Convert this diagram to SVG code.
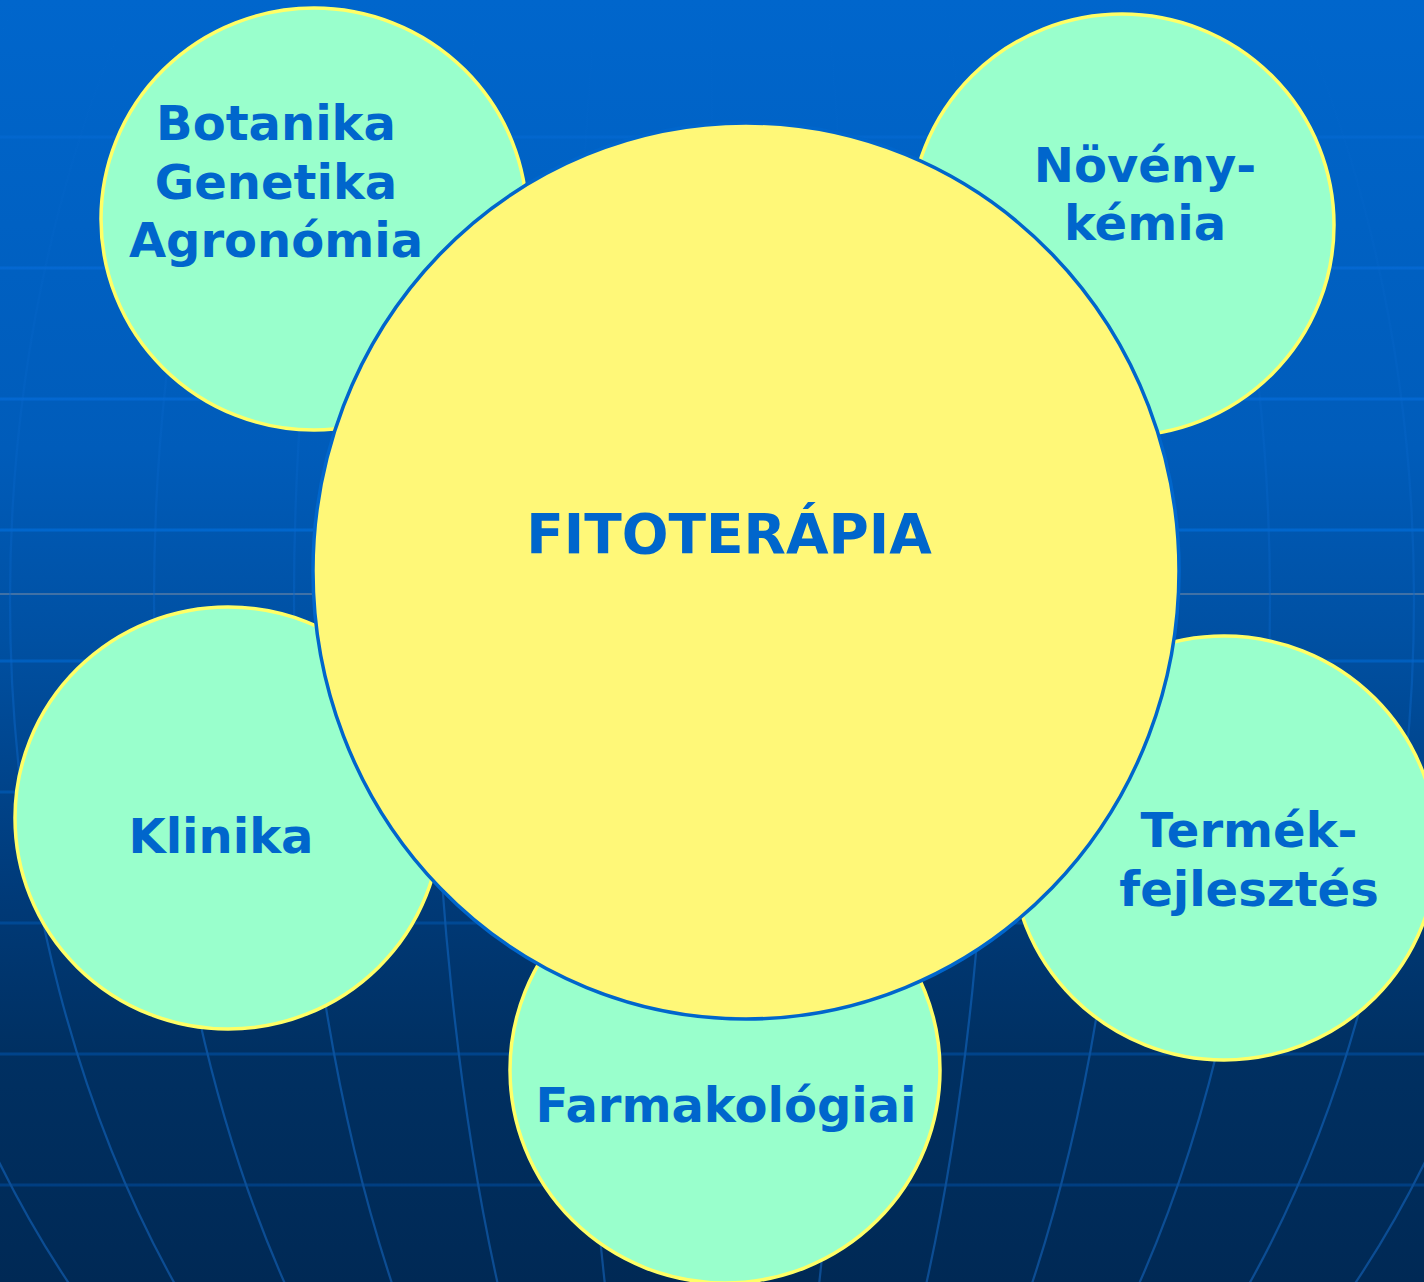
<svg xmlns="http://www.w3.org/2000/svg" width="1424" height="1282" viewBox="0 0 1424 1282">
<defs>
<linearGradient id="bg" x1="0" y1="0" x2="0" y2="1282" gradientUnits="userSpaceOnUse">
<stop offset="0" stop-color="#0066CC"/>
<stop offset="0.35" stop-color="#005CBA"/>
<stop offset="0.5" stop-color="#0050A2"/>
<stop offset="0.7" stop-color="#003A78"/>
<stop offset="0.82" stop-color="#003062"/>
<stop offset="1" stop-color="#002955"/>
</linearGradient>
<linearGradient id="hl" x1="0" y1="0" x2="0" y2="1282" gradientUnits="userSpaceOnUse">
<stop offset="0" stop-color="#0266CC"/>
<stop offset="0.12" stop-color="#0367CE"/>
<stop offset="0.25" stop-color="#0568D2"/>
<stop offset="0.45" stop-color="#0066CC"/>
<stop offset="0.7" stop-color="#004A96"/>
<stop offset="1" stop-color="#003A7A"/>
</linearGradient>
<linearGradient id="ml" x1="0" y1="0" x2="0" y2="1282" gradientUnits="userSpaceOnUse">
<stop offset="0" stop-color="#0A6AD0" stop-opacity="0"/>
<stop offset="0.2" stop-color="#0A6AD0" stop-opacity="0.15"/>
<stop offset="0.5" stop-color="#0866CA" stop-opacity="0.45"/>
<stop offset="0.72" stop-color="#0A56A6" stop-opacity="0.9"/>
<stop offset="1" stop-color="#0C4C92" stop-opacity="1"/>
</linearGradient>
<style>
.hline{stroke:url(#hl);stroke-width:3;fill:none}
.mer{stroke:url(#ml);stroke-width:2.2;fill:none}
.sat{fill:#99FFCC;stroke:#FFFF66;stroke-width:3.5}
.core{fill:#FFF878;stroke:#0066CC;stroke-width:3.5}
.lbl{font-family:"DejaVu Sans",Verdana,sans-serif;font-weight:bold;font-size:48px;fill:#0066CC;text-anchor:middle}
.big{font-size:55px}
</style>
</defs>
<rect x="0" y="0" width="1424" height="1282" fill="url(#bg)"/>
<g id="grid">
<line class="hline" x1="0" y1="137" x2="1424" y2="137"/>
<line class="hline" x1="0" y1="268" x2="1424" y2="268"/>
<line class="hline" x1="0" y1="399" x2="1424" y2="399"/>
<line class="hline" x1="0" y1="530" x2="1424" y2="530"/>
<line class="hline" x1="0" y1="661" x2="1424" y2="661"/>
<line class="hline" x1="0" y1="792" x2="1424" y2="792"/>
<line class="hline" x1="0" y1="923" x2="1424" y2="923"/>
<line class="hline" x1="0" y1="1054" x2="1424" y2="1054"/>
<line class="hline" x1="0" y1="1185" x2="1424" y2="1185"/>
<line x1="0" y1="594" x2="1424" y2="594" stroke="#8090A4" stroke-width="1"/>
<line class="mer" x1="712" y1="0" x2="712" y2="1282"/>
<ellipse class="mer" cx="712" cy="600" rx="140" ry="1062"/>
<ellipse class="mer" cx="712" cy="600" rx="280" ry="1062"/>
<ellipse class="mer" cx="712" cy="600" rx="418" ry="1062"/>
<ellipse class="mer" cx="712" cy="600" rx="558" ry="1062"/>
<ellipse class="mer" cx="712" cy="600" rx="702" ry="1062"/>
<ellipse class="mer" cx="712" cy="600" rx="840" ry="1062"/>
</g>
<g id="connectors"></g>
<g id="botanika">
<ellipse class="sat" cx="314" cy="219" rx="213" ry="211"/>
<text class="lbl" x="276" y="140">Botanika</text>
<text class="lbl" x="276" y="199">Genetika</text>
<text class="lbl" x="276" y="257">Agronómia</text>
</g>
<g id="novenykemia">
<ellipse class="sat" cx="1122" cy="225" rx="212" ry="211"/>
<text class="lbl" x="1145" y="182">Növény-</text>
<text class="lbl" x="1145" y="240">kémia</text>
</g>
<g id="klinika">
<ellipse class="sat" cx="228" cy="818" rx="213" ry="211"/>
<text class="lbl" x="221" y="853">Klinika</text>
</g>
<g id="termekfejlesztes">
<ellipse class="sat" cx="1224" cy="848" rx="213" ry="212"/>
<text class="lbl" x="1249" y="847">Termék-</text>
<text class="lbl" x="1249" y="906">fejlesztés</text>
</g>
<g id="farmakologiai">
<ellipse class="sat" cx="725" cy="1070" rx="215" ry="213"/>
<text class="lbl" x="726" y="1122">Farmakológiai</text>
</g>
<g id="fitoterapia">
<ellipse class="core" cx="746" cy="571" rx="433" ry="448"/>
<text class="lbl big" x="729" y="553">FITOTERÁPIA</text>
</g>
</svg>
